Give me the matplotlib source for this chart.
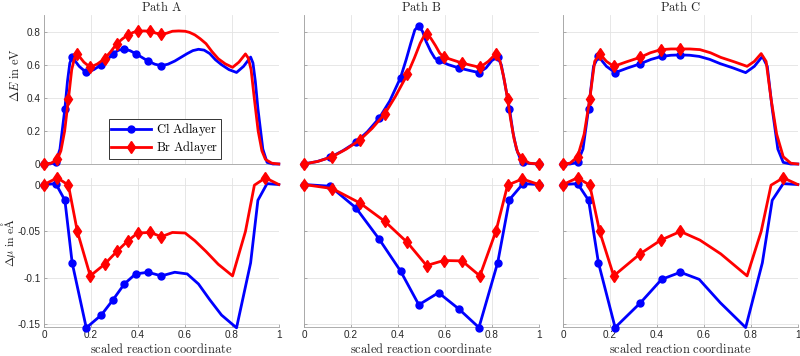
import matplotlib
matplotlib.use('Agg')
import matplotlib.pyplot as plt
from matplotlib.lines import Line2D

plt.rcParams['mathtext.fontset'] = 'cm'
plt.rcParams['font.family'] = ['Liberation Sans', 'DejaVu Sans']

# ---- Path A ----
a_cl_x = [0, 0.05, 0.089, 0.12, 0.18, 0.244, 0.294, 0.342, 0.39, 0.443, 0.5,
          0.557, 0.61, 0.658, 0.706, 0.756, 0.82, 0.88, 0.911, 0.95, 1.0]
a_cl_mu = [0, 0.001, -0.0169, -0.084, -0.1537, -0.140, -0.1236, -0.1067, -0.0959, -0.0941, -0.098,
           -0.0941, -0.0959, -0.1067, -0.1236, -0.140, -0.1537, -0.084, -0.0169, 0.001, 0]
a_cl_ex = [0, 0.05, 0.089, 0.12, 0.18, 0.244, 0.294, 0.342, 0.39, 0.443, 0.5]
a_cl_ey = [0, 0.01, 0.335, 0.646, 0.553, 0.60, 0.667, 0.693, 0.667, 0.622, 0.594]
a_cl_cx = [0, 0.025, 0.05, 0.068, 0.089, 0.100, 0.110, 0.12, 0.150, 0.18, 0.212, 0.244, 0.270,
           0.294, 0.318, 0.342, 0.366, 0.39, 0.416, 0.443, 0.472, 0.5, 0.528, 0.557, 0.584,
           0.61, 0.634, 0.658, 0.682, 0.706, 0.730, 0.756, 0.788, 0.82, 0.850, 0.88, 0.890,
           0.900, 0.911, 0.932, 0.95, 0.975, 1.0]
a_cl_cy = [0, 0.0, 0.01, 0.09, 0.335, 0.50, 0.61, 0.646, 0.59, 0.553, 0.57, 0.60, 0.63,
           0.667, 0.688, 0.693, 0.685, 0.667, 0.645, 0.622, 0.603, 0.594, 0.603, 0.622, 0.645,
           0.667, 0.685, 0.693, 0.688, 0.667, 0.63, 0.60, 0.57, 0.553, 0.59, 0.646, 0.61,
           0.50, 0.335, 0.09, 0.01, 0.0, 0]

a_br_x = [0, 0.057, 0.104, 0.142, 0.197, 0.258, 0.310, 0.3575, 0.399, 0.453, 0.5,
          0.547, 0.601, 0.6425, 0.690, 0.742, 0.803, 0.858, 0.896, 0.943, 1.0]
a_br_mu = [0, 0.0072, -0.0007, -0.0503, -0.098, -0.0855, -0.0718, -0.0603, -0.052, -0.0514, -0.056,
           -0.0514, -0.052, -0.0603, -0.0718, -0.0855, -0.098, -0.0503, -0.0007, 0.0072, 0]
a_br_ex = [0, 0.057, 0.104, 0.142, 0.197, 0.258, 0.310, 0.3575, 0.399, 0.453, 0.5]
a_br_ey = [0, 0.028, 0.392, 0.665, 0.584, 0.636, 0.727, 0.78, 0.802, 0.802, 0.786]
a_br_cx = [0, 0.03, 0.057, 0.072, 0.088, 0.104, 0.118, 0.130, 0.142, 0.170, 0.197, 0.228,
           0.258, 0.285, 0.310, 0.335, 0.3575, 0.380, 0.399, 0.426, 0.453, 0.478, 0.5, 0.522,
           0.547, 0.574, 0.601, 0.620, 0.6425, 0.665, 0.690, 0.715, 0.742, 0.772, 0.803, 0.830,
           0.858, 0.870, 0.882, 0.896, 0.912, 0.928, 0.943, 0.970, 1.0]
a_br_cy = [0, 0.005, 0.028, 0.08, 0.2, 0.392, 0.57, 0.64, 0.665, 0.615, 0.584, 0.605,
           0.636, 0.68, 0.727, 0.757, 0.78, 0.795, 0.802, 0.804, 0.802, 0.79, 0.786, 0.79,
           0.802, 0.804, 0.802, 0.795, 0.78, 0.757, 0.727, 0.68, 0.636, 0.605, 0.584, 0.615,
           0.665, 0.64, 0.57, 0.392, 0.2, 0.08, 0.028, 0.005, 0]

# ---- Path B ----
b_cl_x = [0, 0.111, 0.221, 0.32, 0.411, 0.489, 0.573, 0.66, 0.745, 0.825, 0.875, 0.933, 1.0]
b_cl_mu = [0, -0.0018, -0.025, -0.0585, -0.0927, -0.129, -0.116, -0.1336, -0.1534, -0.0837, -0.0162, 0.001, 0]
b_cl_ey = [0, 0.04, 0.131, 0.277, 0.521, 0.835, 0.626, 0.58, 0.552, 0.646, 0.335, 0.014, 0]
b_cl_cx = [0, 0.056, 0.111, 0.165, 0.221, 0.27, 0.32, 0.365, 0.411, 0.435, 0.455, 0.472,
           0.489, 0.505, 0.52, 0.54, 0.557, 0.573, 0.615, 0.66, 0.705, 0.745, 0.775, 0.80,
           0.825, 0.84, 0.855, 0.875, 0.89, 0.905, 0.92, 0.933, 0.96, 1.0]
b_cl_cy = [0, 0.015, 0.04, 0.08, 0.131, 0.195, 0.277, 0.38, 0.521, 0.63, 0.73, 0.81,
           0.835, 0.80, 0.74, 0.68, 0.64, 0.626, 0.60, 0.58, 0.565, 0.552, 0.58, 0.625,
           0.646, 0.6, 0.49, 0.335, 0.19, 0.09, 0.035, 0.014, 0.003, 0]

b_br_x = [0, 0.12, 0.238, 0.344, 0.44, 0.522, 0.595, 0.673, 0.749, 0.818, 0.867, 0.93, 1.0]
b_br_mu = [0, -0.0043, -0.0198, -0.0395, -0.0621, -0.0869, -0.0815, -0.0819, -0.098, -0.0496, -0.0007, 0.006, 0]
b_br_ey = [0, 0.044, 0.145, 0.303, 0.541, 0.785, 0.646, 0.61, 0.584, 0.667, 0.394, 0.032, 0]
b_br_cx = [0, 0.06, 0.12, 0.18, 0.238, 0.29, 0.344, 0.39, 0.44, 0.47, 0.495, 0.51, 0.522,
           0.54, 0.56, 0.578, 0.595, 0.634, 0.673, 0.71, 0.749, 0.785, 0.818, 0.835, 0.85,
           0.867, 0.88, 0.895, 0.91, 0.93, 0.96, 1.0]
b_br_cy = [0, 0.016, 0.044, 0.09, 0.145, 0.215, 0.303, 0.41, 0.541, 0.64, 0.73, 0.77, 0.785,
           0.76, 0.715, 0.67, 0.646, 0.628, 0.61, 0.597, 0.584, 0.62, 0.667, 0.62, 0.53,
           0.394, 0.27, 0.15, 0.07, 0.032, 0.005, 0]

# ---- Path C ----
c_cl_x = [0, 0.062, 0.109, 0.151, 0.222, 0.33, 0.42, 0.5, 0.58, 0.67, 0.778, 0.849, 0.891, 0.938, 1.0]
c_cl_mu = [0, 0.001, -0.0169, -0.084, -0.1534, -0.1268, -0.1017, -0.0941,
           -0.1017, -0.1268, -0.1534, -0.084, -0.0169, 0.001, 0]
c_cl_ex = [0, 0.062, 0.109, 0.151, 0.222, 0.33, 0.42, 0.5]
c_cl_ey = [0, 0.01, 0.335, 0.65, 0.552, 0.606, 0.65, 0.659]
c_cl_cx = [0, 0.03, 0.062, 0.085, 0.109, 0.13, 0.151, 0.185, 0.222, 0.275, 0.33, 0.375,
           0.42, 0.46, 0.5, 0.54, 0.58, 0.625, 0.67, 0.725, 0.778, 0.815, 0.849, 0.87,
           0.891, 0.915, 0.938, 0.97, 1.0]
c_cl_cy = [0, 0.0, 0.01, 0.09, 0.335, 0.59, 0.65, 0.59, 0.552, 0.58, 0.606, 0.632,
           0.65, 0.657, 0.659, 0.657, 0.65, 0.632, 0.606, 0.58, 0.552, 0.59, 0.65, 0.59,
           0.335, 0.09, 0.01, 0.0, 0]

c_br_x = [0, 0.062, 0.114, 0.156, 0.216, 0.328, 0.417, 0.5, 0.583, 0.672, 0.784, 0.844, 0.886, 0.938, 1.0]
c_br_mu = [0, 0.0072, -0.0007, -0.0503, -0.098, -0.0744, -0.0596, -0.0503,
           -0.0596, -0.0744, -0.098, -0.0503, -0.0007, 0.0072, 0]
c_br_ex = [0, 0.062, 0.114, 0.156, 0.216, 0.328, 0.417, 0.5]
c_br_ey = [0, 0.044, 0.394, 0.667, 0.59, 0.644, 0.691, 0.695]
c_br_cx = [0, 0.03, 0.062, 0.09, 0.114, 0.135, 0.156, 0.185, 0.216, 0.27, 0.328, 0.372,
           0.417, 0.46, 0.5, 0.54, 0.583, 0.628, 0.672, 0.73, 0.784, 0.815, 0.844, 0.865,
           0.886, 0.91, 0.938, 0.97, 1.0]
c_br_cy = [0, 0.005, 0.044, 0.18, 0.394, 0.62, 0.667, 0.62, 0.59, 0.617, 0.644, 0.672,
           0.691, 0.695, 0.695, 0.695, 0.691, 0.672, 0.644, 0.617, 0.59, 0.62, 0.667, 0.62,
           0.394, 0.18, 0.044, 0.005, 0]

titles = ['Path A', 'Path B', 'Path C']
xticks = [0, 0.2, 0.4, 0.6, 0.8, 1]
xticklabels = ['0', '0.2', '0.4', '0.6', '0.8', '1']
e_ticks = [0, 0.2, 0.4, 0.6, 0.8]
e_ticklabels = ['0', '0.2', '0.4', '0.6', '0.8']
mu_ticks = [0, -0.05, -0.1, -0.15]
mu_ticklabels = ['0', '-0.05', '-0.1', '-0.15']

BLUE = (0, 0, 1)
RED = (1, 0, 0)
GRAY = '#262626'
LW = 2.0
MS_O = 5.0
MS_D = 6.0

fig = plt.figure(figsize=(8, 3.56), dpi=100)
lefts = [0.055, 0.38, 0.70375]
w = 0.2935


def style(ax, top, first):
    for s in ['top', 'right']:
        ax.spines[s].set_visible(False)
    for s in ['left', 'bottom']:
        ax.spines[s].set_color('#a0a0a0')
        ax.spines[s].set_linewidth(0.6)
    ax.set_xlim(0, 1)
    ax.set_xticks(xticks)
    ax.grid(True, color='#e3e3e3', linewidth=0.6)
    ax.set_axisbelow(True)
    ax.tick_params(direction='in', length=2.5, width=0.6, color='#a0a0a0',
                   labelsize=7.2, labelcolor=GRAY, pad=2.5)
    if top:
        ax.set_ylim(0, 0.9)
        ax.set_yticks(e_ticks)
        ax.set_xticklabels([])
        ax.tick_params(axis='x', length=0)
    else:
        ax.set_ylim(-0.1525, 0.007)
        ax.set_yticks(mu_ticks)
        ax.set_xticklabels(xticklabels)
        ax.set_xlabel(r'$\mathrm{scaled\ reaction\ coordinate}$', fontsize=9, color=GRAY)
        ax.xaxis.set_label_coords(0.5, -0.105)
    if first:
        ax.set_yticklabels(e_ticklabels if top else mu_ticklabels)
    else:
        ax.set_yticklabels([])


paths = [
    (a_cl_cx, a_cl_cy, a_cl_ex, a_cl_ey, a_cl_x, a_cl_mu, a_br_cx, a_br_cy, a_br_ex, a_br_ey, a_br_x, a_br_mu),
    (b_cl_cx, b_cl_cy, b_cl_x, b_cl_ey, b_cl_x, b_cl_mu, b_br_cx, b_br_cy, b_br_x, b_br_ey, b_br_x, b_br_mu),
    (c_cl_cx, c_cl_cy, c_cl_ex, c_cl_ey, c_cl_x, c_cl_mu, c_br_cx, c_br_cy, c_br_ex, c_br_ey, c_br_x, c_br_mu),
]

for j, p in enumerate(paths):
    (clcx, clcy, clex, cley, clx, clmu, brcx, brcy, brex, brey, brx, brmu) = p
    axt = fig.add_axes([lefts[j], 0.5393, w, 0.4185])
    axb = fig.add_axes([lefts[j], 0.0823, w, 0.4177])
    style(axt, True, j == 0)
    style(axb, False, j == 0)
    axt.set_title(r'$\mathrm{' + titles[j].replace(' ', r'\ ') + '}$', fontsize=9, color=GRAY, pad=3)

    axt.plot(clcx, clcy, color=BLUE, lw=LW, clip_on=False, zorder=3)
    axt.plot(clex, cley, 'o', color=BLUE, ms=MS_O, clip_on=False, zorder=3)
    axt.plot(brcx, brcy, color=RED, lw=LW, clip_on=False, zorder=4)
    axt.plot(brex, brey, 'd', color=RED, ms=MS_D, clip_on=False, zorder=4)

    mk_cl = list(range(len(clex)))
    mk_br = list(range(len(brex)))
    if len(brex) < len(brx):
        mk_br.append(len(brx) - 2)
    axb.plot(clx, clmu, '-o', color=BLUE, lw=LW, ms=MS_O, markevery=mk_cl,
             clip_on=False, zorder=3)
    axb.plot(brx, brmu, '-d', color=RED, lw=LW, ms=MS_D, markevery=mk_br,
             clip_on=False, zorder=4)

    if j == 0:
        axt.set_ylabel(r'$\Delta E\ \mathrm{in\ eV}$', fontsize=9, color=GRAY)
        axt.yaxis.set_label_coords(-0.095, 0.6)
        axb.set_ylabel(r'$\Delta\mu\ \mathrm{in\ e\AA}$', fontsize=8.5, color=GRAY)
        axb.yaxis.set_label_coords(-0.112, 0.57)
        handles = [Line2D([], [], color=BLUE, lw=LW, marker='o', ms=MS_O),
                   Line2D([], [], color=RED, lw=LW, marker='d', ms=MS_D)]
        leg = axt.legend(handles, [r'$\mathrm{Cl\ Adlayer}$', r'$\mathrm{Br\ Adlayer}$'],
                         loc='lower left', bbox_to_anchor=(0.275, 0.035), fontsize=9,
                         handlelength=3.2, fancybox=False, framealpha=1,
                         borderpad=0.2, labelspacing=0.1, handletextpad=0.4,
                         borderaxespad=0)
        leg.get_frame().set_edgecolor('#333333')
        leg.get_frame().set_linewidth(0.7)

fig.savefig('out.png', dpi=100)
